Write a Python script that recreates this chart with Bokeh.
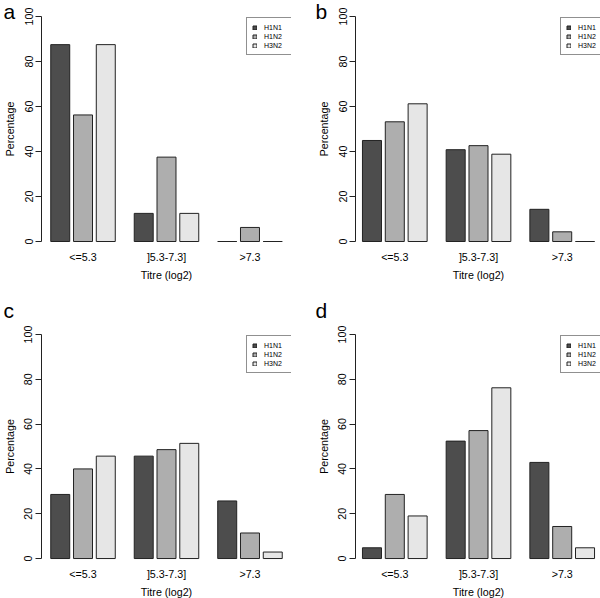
from bokeh.plotting import figure
from bokeh.models import (FactorRange, Range1d, FixedTicker, Legend, LegendItem,
                          ColumnDataSource)
from bokeh.transform import dodge
from bokeh.layouts import gridplot
from bokeh.embed import file_html
from bokeh.resources import INLINE

# ---------------- data ----------------
categories = ["<=5.3", "]5.3-7.3]", ">7.3"]
series = ["H1N1", "H1N2", "H3N2"]
colors = ["#4D4D4D", "#AEAEAE", "#E6E6E6"]

a_H1N1 = [87.5, 12.5, 0.0]
a_H1N2 = [56.25, 37.5, 6.25]
a_H3N2 = [87.5, 12.5, 0.0]

b_H1N1 = [44.9, 40.8, 14.3]
b_H1N2 = [53.2, 42.6, 4.3]
b_H3N2 = [61.2, 38.8, 0.0]

c_H1N1 = [28.6, 45.7, 25.7]
c_H1N2 = [40.0, 48.6, 11.4]
c_H3N2 = [45.7, 51.4, 2.9]

d_H1N1 = [4.8, 52.4, 42.9]
d_H1N2 = [28.6, 57.1, 14.3]
d_H3N2 = [19.0, 76.2, 4.8]

y_ticks = [0, 20, 40, 60, 80, 100]
panel_letters = ["a", "b", "c", "d"]

# ---------------- style ----------------
FONT = "Liberation Sans"
W = 1 / 3.4          # bar width (category units): 0.2 gap in group, 1 between groups
LINE = "#222222"
FS = "10.7px"

# per row: (min_border_top, frame_height, min_border_bottom, title standoff)
ROWS = [(7, 243, 38, -31), (37, 242, 30, 7)]
# per column: (min_border_left, frame_width, min_border_right, range_padding, title offset)
COLS = [(40, 250, 23, 0.08, -38), (40, 246, 0, 0.06, -40)]


def make_panel(letter, v1, v2, v3, row, col):
    top_b, frame_h, bot_b, t_stand = ROWS[row]
    left_b, frame_w, right_b, rpad, t_off = COLS[col]
    p = figure(
        x_range=FactorRange(*categories, factor_padding=W,
                            range_padding=rpad, range_padding_units="percent"),
        y_range=Range1d(-4, 104),
        frame_width=frame_w, frame_height=frame_h,
        min_border_left=left_b, min_border_right=right_b,
        min_border_top=top_b, min_border_bottom=bot_b,
        output_backend="svg", toolbar_location=None,
        background_fill_color="white", border_fill_color="white",
    )
    src = ColumnDataSource(dict(cat=categories, H1N1=v1, H1N2=v2, H3N2=v3))
    renderers = []
    for i, s in enumerate(series):
        r = p.vbar(x=dodge("cat", (i - 1) * 1.2 * W, range=p.x_range),
                   top=s, bottom=0, width=W, source=src,
                   fill_color=colors[i], line_color=LINE, line_width=1)
        renderers.append(r)

    p.xgrid.visible = False
    p.ygrid.visible = False
    p.outline_line_color = None

    # y axis (R style: line only from 0 to 100, labels parallel to axis)
    ya = p.yaxis[0]
    ya.bounds = (0, 100)
    ya.ticker = FixedTicker(ticks=y_ticks, minor_ticks=[])
    ya.major_label_orientation = "vertical"
    ya.major_tick_out = 6
    ya.major_tick_in = 0
    ya.minor_tick_out = 0
    ya.minor_tick_in = 0
    ya.axis_line_color = LINE
    ya.major_tick_line_color = LINE
    ya.major_label_standoff = 3
    ya.major_label_text_font = FONT
    ya.major_label_text_font_size = FS
    ya.major_label_text_color = "black"
    ya.axis_label = "Percentage"
    ya.axis_label_text_font = FONT
    ya.axis_label_text_font_size = FS
    ya.axis_label_text_font_style = "normal"
    ya.axis_label_text_color = "black"
    ya.axis_label_standoff = 6

    xa = p.xaxis[0]
    xa.axis_line_color = None
    xa.major_tick_line_color = None
    xa.major_tick_out = 0
    xa.major_tick_in = 0
    xa.major_label_standoff = 0
    xa.major_label_text_font = FONT
    xa.major_label_text_font_size = FS
    xa.major_label_text_color = "black"
    xa.axis_label = "Titre (log2)"
    xa.axis_label_text_font = FONT
    xa.axis_label_text_font_size = FS
    xa.axis_label_text_font_style = "normal"
    xa.axis_label_text_color = "black"
    xa.axis_label_standoff = 3

    legend = Legend(
        items=[LegendItem(label=s, renderers=[r]) for s, r in zip(series, renderers)],
        location=(205, frame_h - 12 - 36),
        orientation="vertical",
        padding=5, spacing=1, margin=0,
        glyph_width=5, glyph_height=5, label_standoff=7,
        label_height=8, label_width=22,
        label_text_font=FONT, label_text_font_size="7px", label_text_color="black",
        border_line_color=LINE, border_line_width=1,
        background_fill_color="white", background_fill_alpha=1.0,
    )
    p.add_layout(legend)

    # panel letter as the plot title, pulled left of the y axis
    p.title.text = letter
    p.title.align = "left"
    p.title.vertical_align = "bottom"
    p.title.offset = t_off
    p.title.standoff = t_stand
    p.title.text_font = FONT
    p.title.text_font_size = "21px"
    p.title.text_font_style = "normal"
    p.title.text_color = "black"
    return p


pa = make_panel(panel_letters[0], a_H1N1, a_H1N2, a_H3N2, 0, 0)
pb = make_panel(panel_letters[1], b_H1N1, b_H1N2, b_H3N2, 0, 1)
pc = make_panel(panel_letters[2], c_H1N1, c_H1N2, c_H3N2, 1, 0)
pd = make_panel(panel_letters[3], d_H1N1, d_H1N2, d_H3N2, 1, 1)

grid = gridplot([[pa, pb], [pc, pd]], toolbar_location=None)

open("out.html", "w").write(file_html(grid, INLINE))
